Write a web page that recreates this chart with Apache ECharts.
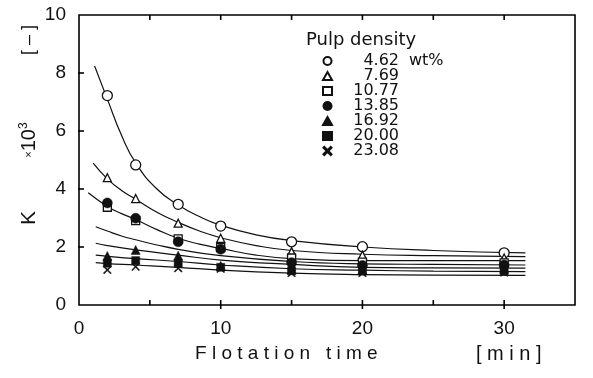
<!DOCTYPE html>
<html><head><meta charset="utf-8">
<script src="https://cdn.jsdelivr.net/npm/echarts@6/dist/echarts.min.js"></script>
<style>html,body{margin:0;padding:0;background:#fff}#c{width:593px;height:378px}</style>
</head><body><div id="c"></div>
<script>
// Data
var times = [2, 4, 7, 10, 15, 20, 30];
var densities = ['4.62', '7.69', '10.77', '13.85', '16.92', '20.00', '23.08'];
var k462  = [7.22, 4.83, 3.47, 2.72, 2.18, 2.01, 1.80];
var k769  = [4.39, 3.67, 2.82, 2.30, 1.84, 1.72, 1.62];
var k1077 = [3.37, 2.91, 2.28, 1.98, 1.62, 1.48, 1.45];
var k1385 = [3.52, 2.99, 2.18, 1.92, 1.46, 1.36, 1.38];
var k1692 = [1.69, 1.90, 1.70, 1.35, 1.22, 1.22, 1.25];
var k2000 = [1.44, 1.53, 1.44, 1.30, 1.18, 1.17, 1.18];
var k2308 = [1.21, 1.32, 1.27, 1.25, 1.10, 1.10, 1.12];

// Fitted curves
var c1x = [1.1, 2, 3, 4, 5.5, 7, 8.5, 10, 12.5, 15, 20, 25, 31.5];
var c1y = [8.24, 7.1, 5.85, 4.9, 4.0, 3.45, 3.05, 2.75, 2.42, 2.22, 2.0, 1.88, 1.8];
var c2x = [1.0, 2, 3, 4, 5.5, 7, 8.5, 10, 12.5, 15, 20, 25, 31.5];
var c2y = [4.89, 4.35, 3.95, 3.65, 3.2, 2.85, 2.55, 2.32, 2.05, 1.88, 1.75, 1.7, 1.67];
var c3x = [0.65, 2, 3, 4, 5.5, 7, 8.5, 10, 12.5, 15, 20, 25, 31.5];
var c3y = [3.87, 3.4, 3.15, 2.95, 2.6, 2.3, 2.1, 1.95, 1.72, 1.6, 1.53, 1.53, 1.53];
var c4x = [1.18, 2, 3, 4, 5.5, 7, 10, 15, 20, 25, 31.5];
var c4y = [2.7, 2.55, 2.38, 2.25, 2.07, 1.92, 1.7, 1.5, 1.42, 1.4, 1.38];
var c5x = [1.18, 2, 4, 7, 10, 15, 20, 25, 31.5];
var c5y = [2.13, 2.05, 1.9, 1.72, 1.55, 1.4, 1.3, 1.28, 1.27];
var c6x = [1.18, 2, 4, 7, 10, 15, 20, 25, 31.5];
var c6y = [1.72, 1.68, 1.6, 1.5, 1.38, 1.25, 1.2, 1.17, 1.15];
var c7x = [1.18, 2, 4, 7, 10, 15, 20, 25, 31.5];
var c7y = [1.46, 1.43, 1.38, 1.3, 1.2, 1.1, 1.05, 1.03, 1.02];

var xTicks = ['0', '10', '20', '30'];
var xMajorTicks = [10, 20, 30];
var xMinorTicks = [5, 15, 25];
var xTopTicks = [5, 10, 15, 20, 25, 30];
var yTicks = [2, 4, 6, 8];

var FONT = 'Liberation Sans';
var LFONT = 'DejaVu Sans';
var INK = '#111111';
function pairs(xs, ys) { return xs.map(function (x, i) { return [x, ys[i]]; }); }

var crossPath = 'path://M0,1L1,0L5,4L9,0L10,1L6,5L10,9L9,10L5,6L1,10L0,9L4,5Z';
var markers = [
  { d: k462,  sym: 'circle',   fill: '#fff', size: 10 },
  { d: k769,  sym: 'triangle', fill: '#fff', size: 8 },
  { d: k1077, sym: 'rect',     fill: '#fff', size: 8 },
  { d: k1385, sym: 'circle',   fill: INK,    size: 10 },
  { d: k1692, sym: 'triangle', fill: INK,    size: 9 },
  { d: k2000, sym: 'rect',     fill: INK,    size: 8 },
  { d: k2308, sym: crossPath,  fill: INK,    size: 8 }
];
var curves = [[c1x, c1y], [c2x, c2y], [c3x, c3y], [c4x, c4y], [c5x, c5y], [c6x, c6y], [c7x, c7y]];

var series = [];
curves.forEach(function (c) {
  series.push({
    type: 'line', data: pairs(c[0], c[1]), smooth: 0.5, showSymbol: false, silent: true,
    lineStyle: { color: INK, width: 1.2 }, z: 1
  });
});
markers.forEach(function (m, i) {
  series.push({
    name: densities[i], type: 'scatter', data: pairs(times, m.d),
    symbol: m.sym, symbolSize: m.size, z: 3,
    itemStyle: { color: m.fill, borderColor: INK, borderWidth: m.fill === '#fff' ? 1.3 : 0.5, opacity: 1 }
  });
});

// Tick marks as short two-point line series (lengths: ~5px = 0.17 y-units / 0.35 x-units)
var TY = 0.17, TX = 0.35;
function tickLine(a, b) {
  series.push({ type: 'line', data: [a, b], showSymbol: false, silent: true, clip: false, z: 6,
    lineStyle: { color: '#000', width: 1.6 } });
}
xMajorTicks.forEach(function (v) { tickLine([v, -0.14], [v, TY]); });
xMinorTicks.forEach(function (v) { tickLine([v, 0], [v, TY]); });
xTopTicks.forEach(function (v) { tickLine([v, 10], [v, 10 - TY]); });
yTicks.forEach(function (v) { tickLine([-TX, v], [TX, v]); });

var chart = echarts.init(document.getElementById('c'));
chart.setOption({
  animation: false,
  backgroundColor: '#fff',
  grid: { left: 79, right: 18, top: 15, bottom: 73, show: true, borderColor: '#000', borderWidth: 1.6, backgroundColor: 'transparent' },
  legend: {
    orient: 'vertical', left: 317, top: 48, itemWidth: 9, itemHeight: 8, itemGap: -1,
    selectedMode: false,
    data: densities,
    formatter: function (n) { return '{v|' + n + '}'; },
    textStyle: {
      fontFamily: LFONT, fontSize: 16, color: INK, lineHeight: 14,
      rich: { v: { width: 62, align: 'right', fontFamily: LFONT, fontSize: 16, color: INK, lineHeight: 14 } }
    }
  },
  xAxis: [{
    type: 'value', min: 0, max: 35, interval: 5,
    axisLine: { show: false }, axisTick: { show: false },
    splitLine: { show: false },
    axisLabel: {
      margin: 14, fontFamily: FONT, fontSize: 19, color: INK,
      formatter: function (v) { return xTicks.indexOf(String(v)) >= 0 ? String(v) : ''; }
    }
  }],
  yAxis: [{
    type: 'value', min: 0, max: 10, interval: 2,
    axisLine: { show: false }, axisTick: { show: false },
    splitLine: { show: false },
    axisLabel: { margin: 13, fontFamily: FONT, fontSize: 19, color: INK }
  }],
  series: series,
  graphic: [
    { type: 'text', left: 306, top: 31, style: { text: 'Pulp density', font: '18px "DejaVu Sans"', fill: INK } },
    { type: 'text', left: 409, top: 53, style: { text: 'wt%', font: '16px "DejaVu Sans"', fill: INK } },
    { type: 'text', left: 195, top: 344, style: { text: 'F l o t a t i o n   t i m e', font: '19px "Liberation Sans"', fill: INK } },
    { type: 'text', left: 476, top: 344, style: { text: '[ m i n ]', font: '20px "Liberation Sans"', fill: INK } },
    { type: 'text', x: 29, y: 218, rotation: Math.PI / 2, style: { text: 'K', font: '21px "Liberation Sans"', fill: INK, align: 'center', verticalAlign: 'middle' } },
    { type: 'text', x: 29, y: 140, rotation: Math.PI / 2,
      style: { text: '{s|×}{n|10}{p|3}', align: 'center', verticalAlign: 'middle',
        rich: { s: { font: '11px "Liberation Sans"', fill: INK }, n: { font: '20px "Liberation Sans"', fill: INK }, p: { font: '12px "Liberation Sans"', fill: INK, verticalAlign: 'top', padding: [0, 0, 10, 0] } } } },
    { type: 'text', x: 29, y: 40, rotation: Math.PI / 2, style: { text: '[ – ]', font: '18px "Liberation Sans"', fill: INK, align: 'center', verticalAlign: 'middle' } }
  ]
});
</script></body></html>
